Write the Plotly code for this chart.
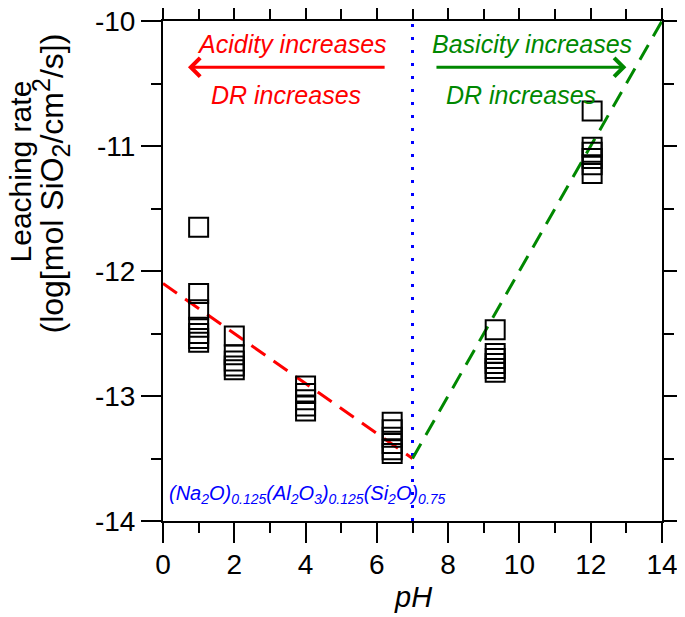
import plotly.graph_objects as go

# ---- data ----
ph_1 = [-11.65, -12.18, -12.31, -12.45, -12.50, -12.54, -12.57]
ph_2 = [-12.52, -12.67, -12.72, -12.76, -12.79]
ph_4 = [-12.92, -12.98, -13.03, -13.08, -13.12]
ph_64 = [-13.21, -13.27, -13.33, -13.38, -13.43, -13.46]
ph_93 = [-12.47, -12.66, -12.70, -12.74, -12.78, -12.81]
ph_12 = [-10.72, -11.01, -11.05, -11.10, -11.15, -11.22]
ph_groups = [1.0, 2.0, 4.0, 6.43, 9.32, 12.04]
rates = [ph_1, ph_2, ph_4, ph_64, ph_93, ph_12]

acid_fit_x = [0, 7]
acid_fit_y = [-12.1, -13.5]
base_fit_x = [7, 14]
base_fit_y = [-13.5, -10.0]
neutral_x = [7, 7]
neutral_y = [-14, -10]

x_ticks = [0, 2, 4, 6, 8, 10, 12, 14]
x_ticktext = ["0", "2", "4", "6", "8", "10", "12", "14"]
y_ticks = [-14, -13, -12, -11, -10]
y_ticktext = ["-14", "-13", "-12", "-11", "-10"]

FONT = "Liberation Sans, Arial, Helvetica, sans-serif"

xs, ys = [], []
for p, vals in zip(ph_groups, rates):
    xs += [p] * len(vals)
    ys += vals

fig = go.Figure()
fig.add_trace(go.Scatter(x=neutral_x, y=neutral_y, mode="lines",
                         line=dict(color="#0000ff", width=3, dash="3px,10px"),
                         hoverinfo="skip"))
fig.add_trace(go.Scatter(x=acid_fit_x, y=acid_fit_y, mode="lines",
                         line=dict(color="#ff0000", width=3, dash="17px,10px")))
fig.add_trace(go.Scatter(x=base_fit_x, y=base_fit_y, mode="lines",
                         line=dict(color="#008800", width=3, dash="17px,10px")))
fig.add_trace(go.Scatter(x=xs, y=ys, mode="markers",
                         marker=dict(symbol="square-open", size=19, color="black",
                                     line=dict(width=2, color="black"))))

axis_common = dict(showgrid=False, zeroline=False, showline=True, linecolor="black",
                   linewidth=2, ticks="outside", ticklen=20, tickwidth=2,
                   tickcolor="black", mirror="allticks", automargin=False,
                   ticklabeloverflow="allow",
                   tickfont=dict(family=FONT, size=28, color="black"))

fig.update_xaxes(range=[0, 14], tickvals=x_ticks, ticktext=x_ticktext,
                 ticklabelstandoff=-3,
                 minor=dict(ticks="outside", ticklen=10, tickwidth=2, dtick=1,
                            tick0=0, tickcolor="black"),
                 **axis_common)
fig.update_yaxes(range=[-14, -10], tickvals=y_ticks, ticktext=y_ticktext,
                 minor=dict(ticks="outside", ticklen=10, tickwidth=2, dtick=0.5,
                            tick0=-14, tickcolor="black"),
                 **axis_common)

ann = []
# texts
ann.append(dict(x=3.63, y=-10.18, xref="x", yref="y", text="<i>Acidity increases</i>",
                showarrow=False, font=dict(family=FONT, size=25, color="#ff0000")))
ann.append(dict(x=3.45, y=-10.59, xref="x", yref="y", text="<i>DR increases</i>",
                showarrow=False, font=dict(family=FONT, size=25, color="#ff0000")))
ann.append(dict(x=10.35, y=-10.18, xref="x", yref="y", text="<i>Basicity increases</i>",
                showarrow=False, font=dict(family=FONT, size=25, color="#008800")))
ann.append(dict(x=10.05, y=-10.59, xref="x", yref="y", text="<i>DR increases</i>",
                showarrow=False, font=dict(family=FONT, size=25, color="#008800")))
# arrows
ann.append(dict(x=0.70, y=-10.37, ax=6.26, ay=-10.37, xref="x", yref="y",
                axref="x", ayref="y", text="", showarrow=True, arrowhead=4,
                arrowsize=1.2, arrowwidth=3, arrowcolor="#ff0000"))
ann.append(dict(x=13.0, y=-10.37, ax=7.63, ay=-10.37, xref="x", yref="y",
                axref="x", ayref="y", text="", showarrow=True, arrowhead=4,
                arrowsize=1.2, arrowwidth=3, arrowcolor="#008800"))
# composition
ann.append(dict(x=0.1, y=-13.79, xref="x", yref="y", xanchor="left",
                text="<i>(Na<sub>2</sub>O)<sub>0.125</sub>(Al<sub>2</sub>O<sub>3</sub>)<sub>0.125</sub>(Si<sub>2</sub>O)<sub>0.75</sub></i>",
                showarrow=False, font=dict(family=FONT, size=20, color="#0000ff")))
# axis titles
ann.append(dict(x=0.5, y=-0.152, xref="paper", yref="paper", text="<i>pH</i>",
                xanchor="center", yanchor="middle",
                showarrow=False, font=dict(family=FONT, size=29, color="black")))
ann.append(dict(x=-0.2856, y=0.70, xref="paper", yref="paper",
                xanchor="center", yanchor="middle",
                text="Leaching rate",
                textangle=-90, showarrow=False,
                font=dict(family=FONT, size=30, color="black")))
ann.append(dict(x=-0.2244, y=0.675, xref="paper", yref="paper",
                xanchor="center", yanchor="middle",
                text="(log[mol SiO<sub><span style='font-size:25px'>2</span></sub>/cm<sup><span style='font-size:25px'>2</span></sup>/s])",
                textangle=-90, showarrow=False,
                font=dict(family=FONT, size=32, color="black")))

fig.update_layout(width=685, height=617, showlegend=False,
                  margin=dict(l=155, r=31, t=13, b=104),
                  plot_bgcolor="white", paper_bgcolor="white",
                  annotations=ann)

fig.write_html("out.html")
